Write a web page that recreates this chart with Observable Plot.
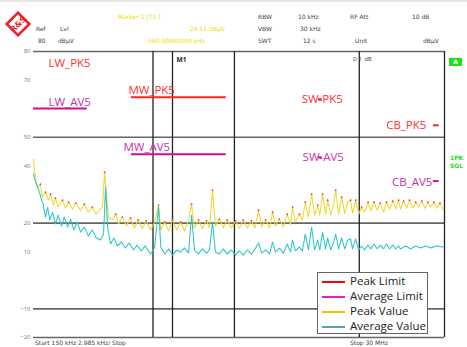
<!DOCTYPE html>
<html><head><meta charset="utf-8">
<script src="https://cdn.jsdelivr.net/npm/d3@7"></script>
<script src="https://cdn.jsdelivr.net/npm/@observablehq/plot@0.6"></script>
<style>
body{margin:0;background:#fff;}
#wrap{position:relative;width:467px;height:347px;overflow:hidden;background:#fff;border-top:2px solid #e6e6e6;box-sizing:border-box;}
#wrap svg{position:absolute;left:0;top:0;}
.hd{position:absolute;font-family:"DejaVu Sans",sans-serif;font-size:6px;white-space:nowrap;line-height:1;color:#444;}
.y{color:#e8e000;}
.g{color:#22dd22;font-weight:bold;}
#legend{position:absolute;left:317px;top:270px;width:109px;height:60px;border:1.5px solid #666;background:#fff;font-family:"Open Sans",sans-serif;font-size:11.5px;color:#222;}
#legend div{position:absolute;left:32px;line-height:1;}
#legend span{position:absolute;left:-28px;top:6px;width:23px;height:2px;}
</style></head><body><div id="wrap"></div>
<script>
// ---- data (frequency in MHz, level in dBµV) ----
const peakFreq = [0.150,0.153,0.158,0.164,0.168,0.175,0.182,0.187,0.194,0.199,0.206,0.218,0.227,0.236,0.248,0.258,0.275,0.289,0.304,0.320,0.337,0.356,0.365,0.375,0.385,0.394,0.415,0.433,0.449,0.472,0.497,0.524,0.550,0.579,0.609,0.641,0.678,0.714,0.752,0.774,0.814,0.858,0.901,0.950,0.998,1.052,1.107,1.151,1.195,1.259,1.325,1.395,1.449,1.508,1.565,1.647,1.733,1.824,1.92,2.03,2.13,2.24,2.36,2.49,2.61,2.73,2.84,2.99,3.15,3.27,3.39,3.57,3.76,3.95,4.12,4.23,4.39,4.62,4.80,4.99,5.19,5.41,5.62,5.85,6.01,6.23,6.48,6.65,6.92,7.20,7.38,7.66,7.97,8.29,8.62,8.94,9.17,9.54,9.92,10.3,10.7,11.2,11.6,12.1,12.6,13.1,13.7,14.2,14.8,15.4,16.0,16.6,17.0,17.7,18.4,19.1,19.9,20.7,21.5,22.4,23.3,24.2,25.0,26.2,27.2,28.3,29.6];
const peakLevel = [42.3,36.0,32.6,33.6,29.1,30.8,28.0,30.1,26.3,28.7,25.6,28.0,25.2,27.3,24.9,27.0,24.5,26.6,23.8,25.6,23.1,24.9,25.6,37.8,29.1,22.1,21.1,23.1,19.7,22.1,19.0,21.8,18.3,21.1,18.0,20.8,17.6,20.4,26.3,17.6,20.4,17.2,21.1,17.6,20.4,17.2,21.1,26.6,18.3,21.1,18.0,20.8,18.3,31.5,19.0,21.4,18.3,21.1,18.3,20.8,18.0,21.1,18.3,20.8,18.3,24.5,18.6,21.1,18.3,23.8,19.0,21.4,18.6,23.1,19.4,25.6,20.4,23.1,21.1,27.3,22.1,30.1,22.8,26.3,22.8,30.1,23.1,28.0,22.8,26.6,31.5,23.1,29.1,23.4,27.3,28.0,23.4,28.0,23.1,25.6,23.8,27.3,24.2,27.3,24.5,27.0,23.8,27.3,24.9,27.7,24.9,28.0,24.9,27.7,25.2,28.0,25.2,27.3,25.6,27.7,25.2,27.3,25.6,27.3,25.2,27.0,24.5];
const avgFreq = [0.150,0.153,0.158,0.162,0.166,0.170,0.175,0.180,0.185,0.192,0.199,0.206,0.215,0.223,0.233,0.242,0.252,0.264,0.275,0.289,0.304,0.320,0.337,0.356,0.370,0.380,0.390,0.405,0.423,0.443,0.466,0.490,0.516,0.543,0.571,0.601,0.632,0.678,0.714,0.752,0.774,0.814,0.858,0.901,0.950,0.998,1.052,1.107,1.151,1.195,1.259,1.325,1.395,1.449,1.508,1.565,1.647,1.733,1.824,1.92,2.03,2.13,2.24,2.36,2.49,2.61,2.73,2.84,2.99,3.15,3.27,3.39,3.57,3.76,3.95,4.12,4.23,4.39,4.62,4.80,4.99,5.19,5.41,5.62,5.85,6.01,6.23,6.48,6.65,6.92,7.20,7.38,7.66,7.97,8.29,8.62,8.94,9.17,9.54,9.92,10.3,10.7,11.2,11.6,12.1,12.6,13.1,13.7,14.2,14.8,15.4,16.0,16.6,17.0,18.2,19.4,20.7,22.0,23.6,25.0,26.9,28.8,29.6];
const avgLevel = [37.1,35.0,32.6,30.8,28.4,26.6,22.1,25.6,21.1,23.8,19.7,22.8,19.0,22.1,18.6,21.4,17.6,20.4,16.9,18.6,15.5,17.6,14.8,14.1,16.2,32.6,18.6,12.7,14.8,12.0,13.4,11.3,13.0,10.6,12.3,10.3,12.0,9.2,11.3,25.6,11.6,9.2,11.0,8.8,10.6,9.9,11.3,9.5,22.8,10.6,9.2,11.0,9.5,10.6,20.4,9.9,9.2,11.0,9.2,10.6,8.8,10.3,8.8,10.6,9.2,11.0,13.0,9.5,10.6,9.2,13.4,9.9,11.3,9.5,12.7,9.9,14.1,10.3,11.6,10.3,16.2,10.6,18.6,10.6,14.1,10.6,16.9,11.0,14.8,10.6,13.4,16.2,11.0,14.8,11.0,14.1,14.5,11.0,14.5,10.6,12.0,10.6,12.3,11.0,12.7,11.0,12.3,11.0,12.7,11.0,12.3,11.0,12.0,11.0,12.0,11.0,12.0,11.3,12.0,11.3,12.0,11.7,11.7];

const limitNames = ["LW_AV5","MW_PK5","MW_AV5","SW-PK5","SW-AV5","CB_PK5","CB_AV5"];
const limitTypes = ["AV","PK","AV","PK","AV","PK","AV"];
const limitStart = [0.15,0.53,0.53,5.9,5.9,26,26];
const limitStop  = [0.30,1.8,1.8,6.2,6.2,28,28];
const limitLevel = [60.1,64.0,44.1,63.3,43.0,54.2,34.7];

const yTickLabels = [80,70,50,40,20,10,-10,-20];
const gridLevels = [80,50,20,-10,-20];
const gridFreqs = [0.7,0.9,2,10,30];

// ---- build tables ----
const peak = peakFreq.map((f,i)=>({f, v:peakLevel[i]}));
const avg = avgFreq.map((f,i)=>({f, v:avgLevel[i]}));
const peakMarks = peak.filter((d,i)=> i>0 && i<peak.length-1 && d.v>peak[i-1].v && d.v>peak[i+1].v);
const limits = limitNames.map((name,i)=>({name, type:limitTypes[i], start:limitStart[i], stop:limitStop[i], level:limitLevel[i]}));
const byName = n => limits.filter(d=>d.name===n);

const RED = "#ff3030", MAG = "#cc2fa8";
const lblFont = {fontFamily:"Open Sans", fontSize:11.5};

const chart = Plot.plot({
  width:467, height:347,
  marginTop:49, marginBottom:12, marginLeft:33, marginRight:23,
  style:{background:"transparent"},
  x:{type:"log", domain:[0.15,30], axis:null},
  y:{domain:[-20,80], axis:null},
  marks:[
    Plot.ruleY(gridLevels,{stroke:"#666", strokeWidth:1.6}),
    Plot.ruleX(gridFreqs,{stroke:"#222", strokeWidth:1.3}),
    Plot.line(peak,{x:"f", y:"v", stroke:"#efd630", strokeWidth:1.1, strokeDasharray:"1.5,0.8"}),
    Plot.dot(peakMarks,{x:"f", y:"v", r:0.9, fill:"#ff3a2a", stroke:"none"}),
    Plot.line(avg,{x:"f", y:"v", stroke:"#28c4c8", strokeWidth:1.1, strokeDasharray:"1.5,0.8"}),
    Plot.ruleY(limits,{x1:"start", x2:"stop", y:"level", stroke:d=>d.type==="PK"?"#ff2020":"#cc0f99", strokeWidth:2}),
    Plot.text(["LW_PK5"],{frameAnchor:"top-left", dx:15, dy:7, text:d=>d, fill:RED, textAnchor:"start", ...lblFont}),
    Plot.text(byName("LW_AV5"),{x:"start", y:"level", text:"name", dx:15, dy:-6, textAnchor:"start", fill:MAG, ...lblFont}),
    Plot.text(byName("MW_PK5"),{x:"start", y:"level", text:"name", dx:-3, dy:-7, textAnchor:"start", fill:RED, ...lblFont}),
    Plot.text(byName("MW_AV5"),{x:"start", y:"level", text:"name", dx:-8, dy:-7, textAnchor:"start", fill:MAG, ...lblFont}),
    Plot.text(byName("SW-PK5"),{x:d=>Math.sqrt(d.start*d.stop), y:"level", text:"name", dx:2, textAnchor:"middle", fill:RED, ...lblFont}),
    Plot.text(byName("SW-AV5"),{x:d=>Math.sqrt(d.start*d.stop), y:"level", text:"name", dx:3, textAnchor:"middle", fill:MAG, ...lblFont}),
    Plot.text(byName("CB_PK5"),{x:"start", y:"level", text:"name", dx:-7, textAnchor:"end", fill:RED, ...lblFont}),
    Plot.text(byName("CB_AV5"),{x:"start", y:"level", text:"name", dx:-1, dy:1, textAnchor:"end", fill:MAG, ...lblFont}),
    Plot.text(["M1"],{x:0.9, frameAnchor:"top", dx:9, dy:6, text:d=>d, fontSize:6.5, fontWeight:"bold", fill:"#222"}),
    Plot.text(["D 1  dB"],{x:10, frameAnchor:"top", dx:3, dy:6, text:d=>d, fontSize:5.5, fill:"#444", textAnchor:"middle"}),
    Plot.axisY(yTickLabels,{anchor:"left", tickSize:0, tickPadding:3, fontSize:6, fill:"#888", label:null})
  ]
});

const wrap = document.getElementById("wrap");
wrap.appendChild(chart);

const hd = [
  ["y",118,12,"Marker 1 [T1 ]"],
  ["",258,12,"RBW"],["",298,12,"10 kHz"],["",350,12,"RF Att"],["",412,12,"10 dB"],
  ["",36,24,"Ref"],["",60,24,"Lvl"],["y",190,24,"24.51 dBµV"],
  ["",258,24,"VBW"],["",300,24,"30 kHz"],
  ["",38,36,"80"],["",58,36,"dBµV"],["y",148,36,"590.00000000 kHz"],
  ["",258,36,"SWT"],["",303,36,"12 s"],["",355,36,"Unit"],["",423,36,"dBµV"],
  ["",35,338,"Start 150 kHz   2.985 kHz/   Stop"],["",350,338,"Stop 30 MHz"],
  ["g",450,153,"1PK"],["g",450,161,"SGL"]
];
for (const [c,x,y,t] of hd){
  const e=document.createElement("div"); e.className="hd "+c; e.style.left=x+"px"; e.style.top=y+"px"; e.textContent=t; wrap.appendChild(e);
}
const box=document.createElement("div");
box.style.cssText="position:absolute;left:449px;top:56px;width:13px;height:8px;background:#22dd22;color:#fff;font:bold 6px 'DejaVu Sans';text-align:center;line-height:8px";
box.textContent="A"; wrap.appendChild(box);

// logo
const logo=document.createElementNS("http://www.w3.org/2000/svg","svg");
logo.setAttribute("width","30");logo.setAttribute("height","30");
logo.style.cssText="position:absolute;left:3px;top:7px";
logo.innerHTML='<g transform="translate(15,15) rotate(-45)"><rect x="-8" y="-8" width="16" height="16" fill="none" stroke="#ee1c24" stroke-width="2.5"/><text x="0" y="3" text-anchor="middle" font-family="DejaVu Sans" font-weight="bold" font-size="8" fill="#ee1c24">R&amp;S</text></g>';
wrap.appendChild(logo);

// legend
const legendNames=["Peak Limit","Average Limit","Peak Value","Average Value"];
const legendColors=["#ff0000","#e020c0","#ffc000","#4aa6b8"];
const lg=document.createElement("div"); lg.id="legend";
legendNames.forEach((n,i)=>{
  const r=document.createElement("div"); r.style.top=(2+i*15)+"px";
  r.innerHTML='<span style="background:'+legendColors[i]+'"></span>'+n;
  lg.appendChild(r);
});
wrap.appendChild(lg);
</script></body></html>
